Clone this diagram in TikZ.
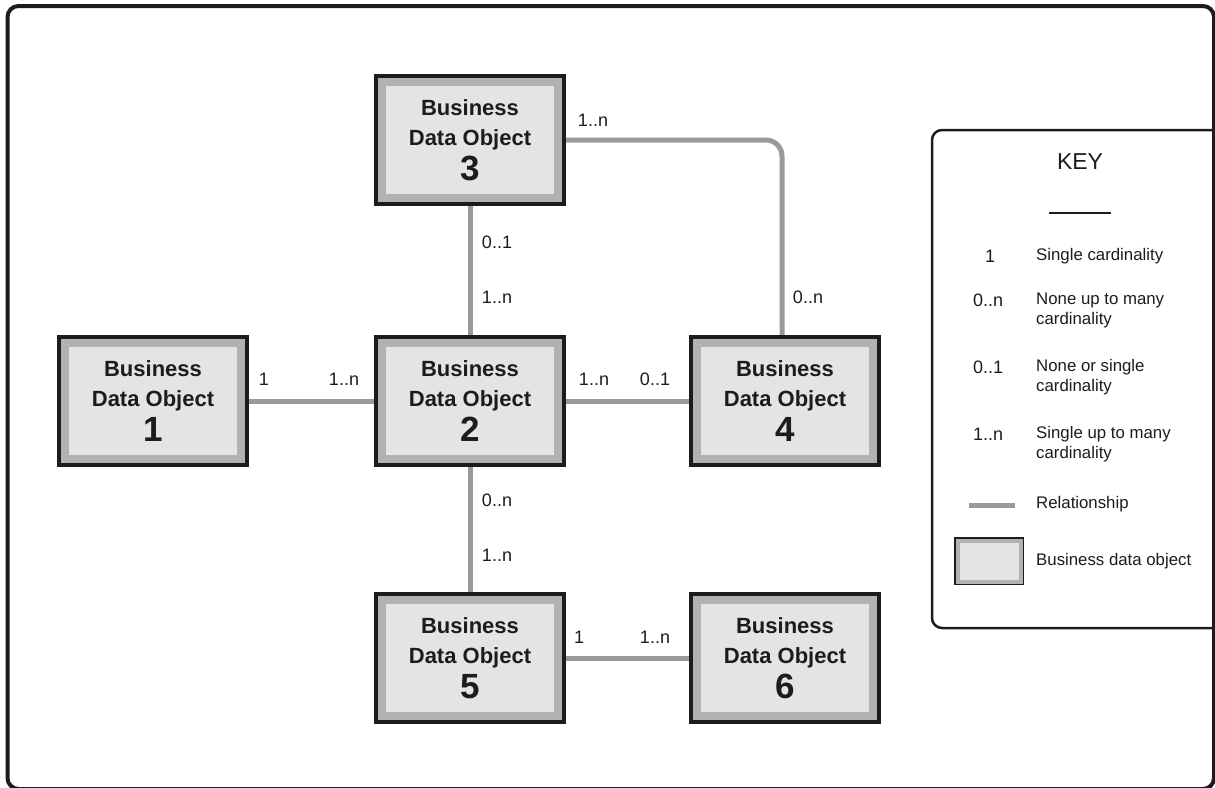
\documentclass[tikz,border=0pt]{standalone}
\usepackage{fontspec}
\setmainfont{Liberation Sans}
\definecolor{boxfill}{HTML}{E4E4E6}
\definecolor{boxrim}{HTML}{B2B2B4}
\definecolor{relgray}{HTML}{9A9A9C}
\definecolor{ink}{HTML}{1C1C1C}
\pgfdeclarelayer{bg}
\pgfdeclarelayer{paper}
\pgfsetlayers{paper,bg,main}
\begin{document}
\begin{tikzpicture}[x=1pt,y=-1pt,
  bdo/.style={rectangle, fill=boxfill, draw=boxrim, line width=8pt,
    preaction={draw=ink, line width=16pt},
    minimum width=176pt, minimum height=116pt, inner sep=0pt,
    align=center, text=ink, font=\fontsize{22}{30}\selectfont\bfseries},
  smallbdo/.style={rectangle, fill=boxfill, draw=boxrim, line width=4pt,
    preaction={draw=ink, line width=7pt},
    minimum width=63pt, minimum height=41pt, inner sep=0pt},
  rel/.style={draw=relgray, line width=5pt},
  card/.style={text=ink, font=\fontsize{18}{18}\selectfont, inner sep=0pt},
  keysym/.style={text=ink, font=\fontsize{18}{18}\selectfont, inner sep=0pt},
  keytxt/.style={text=ink, font=\fontsize{16.8}{20}\selectfont, inner sep=0pt, anchor=west, align=left},
  frame/.style={draw=ink, line width=4pt, rounded corners=11pt},
  keyframe/.style={draw=ink, line width=2.5pt, rounded corners=10pt}
]
\useasboundingbox (0,0) rectangle (1215,787);
\begin{pgfonlayer}{paper}
\fill[white] (0,0) rectangle (1215,787);
\end{pgfonlayer}
\draw[frame] (7.5,6) rectangle (1214,789);

% business data objects
\node[bdo] (b1) at (153,401) {Business\\Data Object\\[5pt]\fontsize{35}{32}\selectfont 1};
\node[bdo] (b2) at (470,401) {Business\\Data Object\\[5pt]\fontsize{35}{32}\selectfont 2};
\node[bdo] (b3) at (470,140) {Business\\Data Object\\[5pt]\fontsize{35}{32}\selectfont 3};
\node[bdo] (b4) at (785,401) {Business\\Data Object\\[5pt]\fontsize{35}{32}\selectfont 4};
\node[bdo] (b5) at (470,658) {Business\\Data Object\\[5pt]\fontsize{35}{32}\selectfont 5};
\node[bdo] (b6) at (785,658) {Business\\Data Object\\[5pt]\fontsize{35}{32}\selectfont 6};

% relationships
\begin{pgfonlayer}{bg}
\draw[rel] (b1) -- (b2);
\draw[rel] (b2) -- (b4);
\draw[rel] (b3) -- (b2);
\draw[rel] (b2) -- (b5);
\draw[rel] (b5) -- (b6);
\draw[rel, rounded corners=16pt] (b3.east) -| ([xshift=-3pt]b4.north);
\end{pgfonlayer}

% cardinalities
\node[card] (c31) at (593,120) {1..n};
\node[card] (c32) at (497,242) {0..1};
\node[card] (c23) at (497,297) {1..n};
\node[card] (c43) at (808,297) {0..n};
\node[card] (c12) at (264,379) {1};
\node[card] (c21) at (344,379) {1..n};
\node[card] (c24) at (594,379) {1..n};
\node[card] (c42) at (655,379) {0..1};
\node[card] (c25) at (497,500) {0..n};
\node[card] (c52) at (497,555) {1..n};
\node[card] (c56) at (579,637) {1};
\node[card] (c65) at (655,637) {1..n};

% key
\draw[keyframe] (932,130) rectangle (1240,628);
\node[text=ink, font=\fontsize{23}{24}\selectfont, inner sep=0pt] (keyt) at (1080,162) {KEY};
\coordinate (ul1) at (1049,213);
\coordinate (ul2) at (1111,213);
\draw[ink, line width=2.5pt] (ul1) -- (ul2);

\node[keysym] (k1) at (990,256) {1};
\node[keysym] (k2) at (988,300) {0..n};
\node[keysym] (k3) at (988,367) {0..1};
\node[keysym] (k4) at (988,434) {1..n};
\node[keytxt] (t1) at (1036,256) {Single cardinality};
\node[keytxt] (t2) at (1036,310) {None up to many\\cardinality};
\node[keytxt] (t3) at (1036,377) {None or single\\cardinality};
\node[keytxt] (t4) at (1036,444) {Single up to many\\cardinality};
\coordinate (r1) at (969,505);
\coordinate (r2) at (1015,505);
\draw[rel] (r1) -- (r2);
\node[keytxt] (t5) at (1036,504) {Relationship};
\node[smallbdo] (kb) at (989,561) {};
\node[keytxt] (t6) at (1036,561) {Business data object};
\end{tikzpicture}
\end{document}
